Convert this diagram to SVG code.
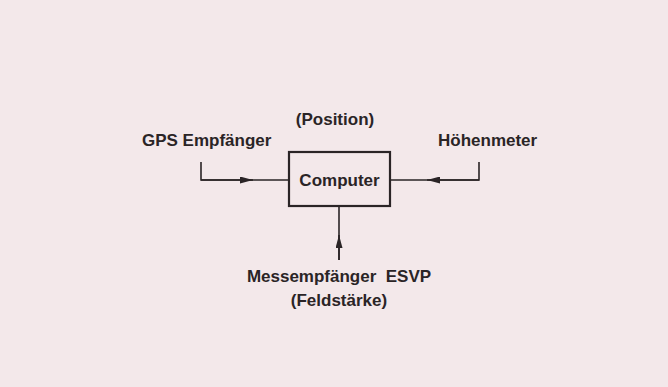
<svg xmlns="http://www.w3.org/2000/svg" width="668" height="387" viewBox="0 0 668 387">
<defs>
<style>
text{font-family:"Liberation Sans",Arial,sans-serif;font-weight:bold;font-size:17px;fill:#2a2426}
.ln{fill:none;stroke:#2a2426;stroke-width:1.6}
.bx{fill:none;stroke:#2a2426;stroke-width:2.2}
</style>
<marker id="ah" viewBox="0 0 13 7" refX="13" refY="3.5" markerWidth="13" markerHeight="7" markerUnits="userSpaceOnUse" orient="auto"><path d="M0,0 L13,3.5 L0,7 Z" fill="#2a2426"/></marker>
</defs>
<rect width="668" height="387" fill="#f3e8ea"/>
<g id="connectors">
<path class="ln" d="M201,162 V180 H289"/>
<path class="ln" d="M201,180 H253" marker-end="url(#ah)"/>
<path class="ln" d="M479,162 V180 H390"/>
<path class="ln" d="M479,180 H427" marker-end="url(#ah)"/>
<path class="ln" d="M339,260 V206"/>
<path class="ln" d="M339,260 V235" marker-end="url(#ah)"/>
</g>
<g id="computer">
<rect x="289" y="152" width="101" height="54" class="bx"/>
<text x="339.5" y="186" text-anchor="middle">Computer</text>
</g>
<g id="position"><text x="335" y="125" text-anchor="middle">(Position)</text></g>
<g id="gps"><text x="142" y="146">GPS Empfänger</text></g>
<g id="hoehenmeter"><text x="438" y="146">Höhenmeter</text></g>
<g id="messempfaenger">
<text x="339" y="282" text-anchor="middle" xml:space="preserve">Messempfänger  ESVP</text>
<text x="339" y="306" text-anchor="middle">(Feldstärke)</text>
</g>
</svg>
